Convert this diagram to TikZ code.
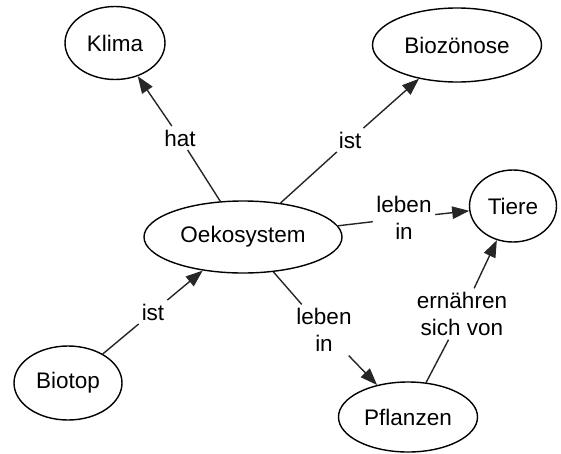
\documentclass[tikz,border=0pt]{standalone}
\usepackage{fontspec}
\setmainfont{Liberation Sans}
\usetikzlibrary{shapes.geometric,arrows.meta}
\begin{document}
\begin{tikzpicture}[x=1pt,y=-1pt,
  font=\fontsize{22.5}{27.5}\selectfont,
  concept/.style={draw, ellipse, line width=1.4pt, inner sep=0pt,
    minimum width=#1},
  concept/.default=100pt,
  link/.style={align=center, inner sep=3.5pt},
  conn/.style={line width=1.4pt, draw=black!85},
  arr/.style={conn, -{Triangle[length=17pt,width=12.5pt]}}]
\useasboundingbox (0,0) rectangle (561,453);

% concepts
\node[concept=100pt, minimum height=73pt] (klima) at (115,43) {Klima};
\node[concept=169pt, minimum height=74pt] (bio) at (457,45) {Biozönose};
\node[concept=198pt, minimum height=72pt] (oeko) at (243,237) {Oekosystem};
\node[concept=87pt, minimum height=72pt] (tiere) at (513,206) {Tiere};
\node[concept=108pt, minimum height=74pt] (biotop) at (68,383) {Biotop};
\node[concept=139pt, minimum height=70pt] (pfl) at (408,417) {Pflanzen};

% linking phrases
\node[link] (hat) at (180,138) {hat};
\node[link] (ist1) at (350,140) {ist};
\node[link] (ist2) at (153,312) {ist};
\node[link] (lebt) at (404,218) {leben\\in};
\node[link] (lebp) at (324,330) {leben\\in};
\node[link] (ern) at (462,314) {ernähren\\sich von};

% connections
\draw[conn] (oeko) -- (hat);   \draw[arr] (hat) -- (klima);
\draw[conn] (oeko) -- (ist1);  \draw[arr] (ist1) -- (bio);
\draw[conn] (biotop) -- (ist2); \draw[arr] (ist2) -- (oeko);
\draw[conn] (oeko) -- (lebt);  \draw[arr] (lebt) -- (tiere);
\draw[conn] (oeko) -- (lebp);  \draw[arr] (lebp) -- (pfl);
\draw[conn] (pfl) -- (ern);    \draw[arr] (ern) -- (tiere);
\end{tikzpicture}
\end{document}
